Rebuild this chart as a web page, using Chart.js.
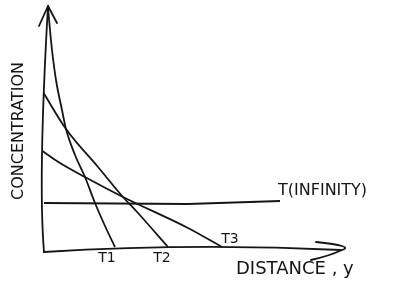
<!DOCTYPE html>
<html>
<head>
<meta charset="utf-8">
<script src="https://cdn.jsdelivr.net/npm/chart.js@4"></script>
<style>
  html, body { margin: 0; padding: 0; background: #fff; }
  #wrap { width: 413px; height: 307px; }
</style>
</head>
<body>
<div id="wrap"><canvas id="c"></canvas></div>
<script>
// curves (distance, concentration)
const t1X = [5, 7, 9, 13, 19, 23, 32, 42, 52, 62, 72];
const t1Y = [243, 221, 201, 171, 141, 122, 96, 74, 48, 25, 4];
const t2X = [0, 23, 55, 80, 95, 125];
const t2Y = [159, 122, 84, 54, 38, 4];
const t3X = [-2, 17, 42, 80, 145, 179];
const t3Y = [101, 88, 74, 54, 23, 4];
const tInfX = [1, 145, 237];
const tInfY = [48, 47, 50];

const curveNames = ['T1', 'T2', 'T3', 'T(INFINITY)'];
const xTitle = 'DISTANCE , y';
const yTitle = 'CONCENTRATION';

const ink = '#151515';
const pts = (xs, ys) => xs.map((x, i) => ({x: x, y: ys[i]}));

const mkSet = (label, xs, ys, smooth) => ({
  label: label,
  data: pts(xs, ys),
  borderColor: ink,
  borderWidth: 1.8,
  pointRadius: 0,
  fill: false,
  tension: 0,
  cubicInterpolationMode: smooth ? 'monotone' : 'default'
});

// hand drawn axes + labels
const sketchPlugin = {
  id: 'sketch',
  afterDatasetsDraw(chart) {
    const {ctx, scales: {x, y}} = chart;
    const px = v => x.getPixelForValue(v);
    const py = v => y.getPixelForValue(v);
    ctx.save();
    ctx.strokeStyle = ink;
    ctx.fillStyle = ink;
    ctx.lineWidth = 1.8;
    ctx.lineCap = 'round';
    ctx.lineJoin = 'round';

    // y axis
    ctx.beginPath();
    ctx.moveTo(px(1), py(-1));
    ctx.quadraticCurveTo(px(-5), py(71), px(5), py(245));
    ctx.stroke();
    ctx.beginPath();
    ctx.moveTo(px(-4), py(225));
    ctx.lineTo(px(5), py(245));
    ctx.lineTo(px(14), py(228));
    ctx.stroke();

    // x axis
    ctx.beginPath();
    ctx.moveTo(px(1), py(-1));
    ctx.quadraticCurveTo(px(150), py(8), px(298), py(1));
    ctx.stroke();
    ctx.beginPath();
    ctx.moveTo(px(273), py(9));
    ctx.quadraticCurveTo(px(312), py(5), px(299), py(1));
    ctx.quadraticCurveTo(px(286), py(-5), px(268), py(-9));
    ctx.stroke();

    // curve labels
    ctx.textBaseline = 'middle';
    ctx.textAlign = 'center';
    ctx.font = '14px "DejaVu Sans"';
    ctx.fillText(curveNames[0], px(64), py(-7));
    ctx.fillText(curveNames[1], px(119), py(-7));
    ctx.fillText(curveNames[2], px(187), py(12));
    ctx.textAlign = 'left';
    ctx.font = '16px "DejaVu Sans"';
    ctx.fillText(curveNames[3], px(235), py(60));

    // axis titles
    ctx.font = '18px "DejaVu Sans"';
    ctx.fillText(xTitle, px(193), py(-18));
    ctx.translate(19, py(120));
    ctx.rotate(-Math.PI / 2);
    ctx.textAlign = 'center';
    ctx.font = '16px "DejaVu Sans"';
    ctx.fillText(yTitle, 0, 0);
    ctx.restore();
  }
};

new Chart(document.getElementById('c'), {
  type: 'line',
  data: {
    datasets: [
      mkSet(curveNames[0], t1X, t1Y, true),
      mkSet(curveNames[1], t2X, t2Y, true),
      mkSet(curveNames[2], t3X, t3Y, true),
      mkSet(curveNames[3], tInfX, tInfY, false)
    ]
  },
  options: {
    responsive: true,
    maintainAspectRatio: false,
    animation: false,
    layout: {padding: {left: 43, right: 0, top: 0, bottom: 56}},
    scales: {
      x: {type: 'linear', min: 0, max: 370, display: false},
      y: {type: 'linear', min: 0, max: 251, display: false}
    },
    plugins: {
      legend: {display: false},
      tooltip: {enabled: false}
    }
  },
  plugins: [sketchPlugin]
});
</script>
</body>
</html>
